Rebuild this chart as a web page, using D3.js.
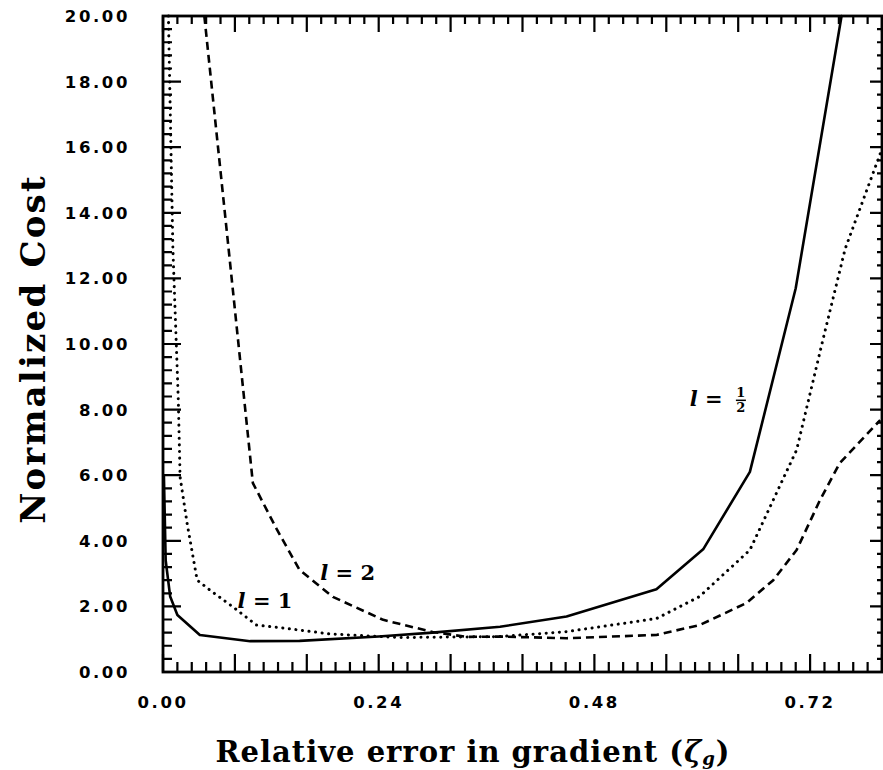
<!DOCTYPE html>
<html>
<head>
<meta charset="utf-8">
<script src="https://cdn.jsdelivr.net/npm/d3@7"></script>
<style>
  body { margin: 0; background: #fff; }
  svg { display: block; }
</style>
</head>
<body>
<svg id="chart" width="883" height="770"></svg>
<script>
// curve l = 1/2 (solid)
const halfX = [0.001, 0.003, 0.008, 0.016, 0.041, 0.097, 0.152, 0.24, 0.30, 0.375, 0.449, 0.549, 0.601, 0.653, 0.704, 0.755];
const halfY = [6.0, 3.4, 2.3, 1.74, 1.13, 0.94, 0.95, 1.08, 1.2, 1.38, 1.69, 2.52, 3.74, 6.1, 11.7, 20];
// curve l = 1 (dotted)
const oneX = [0.006, 0.011, 0.017, 0.019, 0.027, 0.038, 0.052, 0.078, 0.104, 0.134, 0.186, 0.264, 0.375, 0.449, 0.549, 0.597, 0.653, 0.705, 0.734, 0.759, 0.798];
const oneY = [20, 12.9, 8.3, 5.95, 4.5, 2.8, 2.5, 1.98, 1.43, 1.34, 1.16, 1.05, 1.08, 1.23, 1.63, 2.3, 3.72, 6.77, 10.1, 12.9, 15.8];
// curve l = 2 (dashed)
const twoX = [0.046, 0.073, 0.100, 0.127, 0.152, 0.189, 0.245, 0.300, 0.338, 0.375, 0.449, 0.549, 0.597, 0.649, 0.679, 0.705, 0.731, 0.753, 0.798];
const twoY = [20, 12.9, 5.76, 4.33, 3.11, 2.29, 1.59, 1.22, 1.07, 1.08, 1.03, 1.13, 1.43, 2.1, 2.8, 3.72, 5.24, 6.37, 7.68];

const xLabels = [0, 0.24, 0.48, 0.72];
const yLabels = [0, 2, 4, 6, 8, 10, 12, 14, 16, 18, 20];

const svg = d3.select('#chart');
const margin = {left: 163, right: 1, top: 16, bottom: 98};
const width = 883 - margin.left - margin.right;
const height = 770 - margin.top - margin.bottom;

const x = d3.scaleLinear().domain([0, 0.8]).range([0, width]);
const y = d3.scaleLinear().domain([0, 20]).range([height, 0]);

const g = svg.append('g')
  .attr('transform', 'translate(' + margin.left + ',' + margin.top + ')');

// inward ticks on all four sides
const xMajor = d3.range(0, 0.8001, 0.08);
const xMinor = d3.range(0, 0.8001, 0.016);
const yMajor = d3.range(0, 20.001, 2);
const yMinor = d3.range(0, 20.001, 0.4);

const tp = d3.path();
function xTicks(values, y0, len) {
  values.forEach(d => { tp.moveTo(x(d), y0); tp.lineTo(x(d), y0 + len); });
}
function yTicks(values, x0, len) {
  values.forEach(d => { tp.moveTo(x0, y(d)); tp.lineTo(x0 + len, y(d)); });
}
xTicks(xMinor, height, -10);
xTicks(xMajor, height, -18);
xTicks(xMinor, 0, 8);
xTicks(xMajor, 0, 16);
yTicks(yMinor, 0, 9);
yTicks(yMajor, 0, 18);
yTicks(yMinor, width, -5);
yTicks(yMajor, width, -12);
g.append('path')
  .attr('d', tp.toString())
  .attr('fill', 'none')
  .attr('stroke', '#000')
  .attr('stroke-width', 2.2);

// frame
g.append('rect')
  .attr('width', width)
  .attr('height', height)
  .attr('fill', 'none')
  .attr('stroke', '#000')
  .attr('stroke-width', 2.8);

// tick labels, placed from the scales
const fmt = d3.format('.2f');
function styleLabels(sel) {
  sel.attr('font-family', 'DejaVu Sans')
    .attr('font-weight', 'bold')
    .attr('font-size', 16.5)
    .attr('letter-spacing', 2.6)
    .attr('fill', '#000');
}
g.append('g').selectAll('text')
  .data(xLabels)
  .join('text')
  .attr('x', d => x(d))
  .attr('y', height + 36)
  .attr('text-anchor', 'middle')
  .text(fmt)
  .call(styleLabels);

g.append('g').selectAll('text')
  .data(yLabels)
  .join('text')
  .attr('x', -33)
  .attr('y', d => y(d))
  .attr('dy', '0.36em')
  .attr('text-anchor', 'end')
  .text(fmt)
  .call(styleLabels);

// curves
const lineGen = d3.line().x(d => x(d[0])).y(d => y(d[1]));
const curves = [
  {xs: halfX, ys: halfY, dash: null, cap: 'round', w: 2.6},
  {xs: oneX, ys: oneY, dash: '0.1 6.5', cap: 'round', w: 3},
  {xs: twoX, ys: twoY, dash: '8 5', cap: 'butt', w: 2.6}
];
curves.forEach(c => {
  g.append('path')
    .datum(c.xs.map((v, i) => [v, c.ys[i]]))
    .attr('d', lineGen)
    .attr('fill', 'none')
    .attr('stroke', '#000')
    .attr('stroke-width', c.w)
    .attr('stroke-linecap', c.cap)
    .attr('stroke-linejoin', 'round')
    .attr('stroke-dasharray', c.dash);
});

// curve labels
function curveLabel(px, py, num) {
  const t = g.append('text')
    .attr('x', x(px))
    .attr('y', y(py))
    .attr('font-family', 'DejaVu Serif')
    .attr('font-weight', 'bold')
    .attr('font-size', 21)
    .attr('fill', '#000');
  t.append('tspan').attr('font-style', 'italic').text('l');
  t.append('tspan').text(' = ' + num);
  return t;
}
curveLabel(0.083, 1.95, '1');
curveLabel(0.175, 2.8, '2');

// l = 1/2 with stacked fraction
curveLabel(0.586, 8.1, '');
const fx = x(0.643), fy = y(8.1);
g.append('text').attr('x', fx).attr('y', fy - 9)
  .attr('text-anchor', 'middle')
  .attr('font-family', 'DejaVu Serif').attr('font-weight', 'bold')
  .attr('font-size', 13).text('1');
g.append('text').attr('x', fx).attr('y', fy + 6)
  .attr('text-anchor', 'middle')
  .attr('font-family', 'DejaVu Serif').attr('font-weight', 'bold')
  .attr('font-size', 13).text('2');
g.append('path')
  .attr('d', 'M' + (fx - 5) + ',' + (fy - 6) + 'H' + (fx + 5))
  .attr('fill', 'none')
  .attr('stroke', '#000').attr('stroke-width', 1.5);

// axis titles
svg.append('text')
  .attr('transform', 'translate(45,349) rotate(-90)')
  .attr('text-anchor', 'middle')
  .attr('font-family', 'DejaVu Serif')
  .attr('font-weight', 'bold')
  .attr('font-size', 34)
  .attr('letter-spacing', 2.2)
  .attr('fill', '#000')
  .text('Normalized Cost');

const xt = svg.append('text')
  .attr('x', 473)
  .attr('y', 762)
  .attr('text-anchor', 'middle')
  .attr('font-family', 'DejaVu Serif')
  .attr('font-weight', 'bold')
  .attr('font-size', 29)
  .attr('letter-spacing', 1)
  .attr('fill', '#000');
xt.append('tspan').text('Relative error in gradient (');
xt.append('tspan').attr('font-style', 'italic').text('ζ');
xt.append('tspan').attr('font-style', 'italic').attr('font-size', 18).attr('dy', 3).text('g');
xt.append('tspan').attr('dy', -3).text(')');
</script>
</body>
</html>
